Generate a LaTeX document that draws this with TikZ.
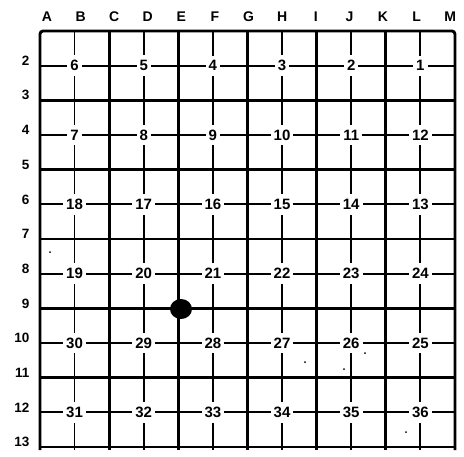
\documentclass[tikz,border=0pt]{standalone}
\usepackage{fontspec}
\setmainfont{Liberation Sans}
\usetikzlibrary{shapes.geometric}
\begin{document}
\begin{tikzpicture}[x=1pt,y=-1pt,
  thickln/.style={line width=2.9pt},
  thinln/.style={line width=1.8pt},
  num/.style={fill=white,inner xsep=3pt,inner ysep=5pt,font=\bfseries\fontsize{15}{15}\selectfont},
  collab/.style={font=\bfseries\fontsize{14}{14}\selectfont},
  rowlab/.style={anchor=east,font=\bfseries\fontsize{13.5}{14}\selectfont},
  speck/.style={circle,fill=black,inner sep=0pt,minimum size=2pt}]
\useasboundingbox (0,0) rectangle (464,456);
\foreach \i in {0,...,12} {
  \coordinate (t\i) at ({40+34.58*\i},31);
  \coordinate (b\i) at ({40+34.58*\i},450);
}
\foreach \j in {1,...,13} {
  \coordinate (l\j) at (40,{31+34.67*(\j-1)});
  \coordinate (r\j) at (455,{31+34.67*(\j-1)});
}
% thin lines
\foreach \i in {1,3,...,11} \draw[thinln] (t\i) -- (b\i);
\foreach \j in {2,4,...,12} \draw[thinln] (l\j) -- (r\j);
% thick lines
\foreach \i in {2,4,...,10} \draw[thickln] (t\i) -- (b\i);
\foreach \j in {3,5,...,11} \draw[thickln] (l\j) -- (r\j);
% border
\draw[thickln,rounded corners=3pt] (b0) -- (t0) -- (t12) -- (b12);
\draw[thinln] (l13) -- (r13);
% numbers
\foreach \k in {1,...,6} \foreach \c in {1,...,6} {
  \pgfmathtruncatemacro\n{mod(\k,2)==1 ? 6*(\k-1)+7-\c : 6*(\k-1)+\c}
  \pgfmathtruncatemacro\ci{2*\c-1}
  \pgfmathtruncatemacro\rj{2*\k}
  \node[num] (n\n) at (t\ci |- l\rj) {\n};
}
% column letters
\foreach \L [count=\i from 0] in {A,B,C,D,E,F,G,H,I,J,K,L,M}
  \node[collab] (c\L) at ({47+33.6*\i},17) {\L};
% row labels
\foreach \j in {2,...,13}
  \node[rowlab] (row\j) at (33,{31+34.67*(\j-1)-5}) {\j};
% dot
\node[ellipse,fill=black,inner sep=0pt,minimum width=22pt,minimum height=20pt] (dot) at (181,309) {};
% specks
\node[speck] (s1) at (50,252) {};
\node[speck] (s2) at (305,362) {};
\node[speck] (s3) at (344,369) {};
\node[speck] (s4) at (365,353) {};
\node[speck] (s5) at (406,432) {};
\end{tikzpicture}
\end{document}
